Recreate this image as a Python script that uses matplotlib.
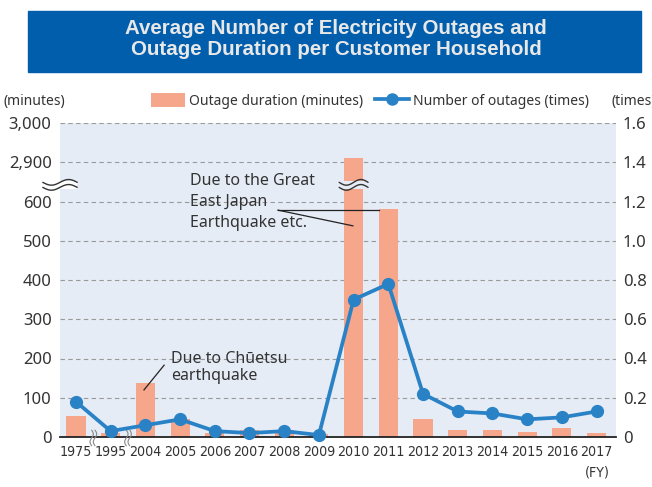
# -*- coding: utf-8 -*-

import matplotlib
matplotlib.use("Agg")
import matplotlib.pyplot as plt
import numpy as np
from matplotlib.patches import Rectangle, Patch
from matplotlib.lines import Line2D

# data
years = ["1975", "1995", "2004", "2005", "2006", "2007", "2008", "2009",
         "2010", "2011", "2012", "2013", "2014", "2015", "2016", "2017"]
duration_min = [54, 10, 137, 46, 11, 18, 17, 7,
                2912, 580, 46, 18, 18, 13, 23, 10]
outages_times = [0.18, 0.03, 0.06, 0.09, 0.03, 0.02, 0.03, 0.01,
                 0.70, 0.78, 0.22, 0.13, 0.12, 0.09, 0.10, 0.13]
left_ticks = [0, 100, 200, 300, 400, 500, 600, 2900, 3000]
left_labels = ["0", "100", "200", "300", "400", "500", "600", "2,900", "3,000"]
right_ticks = [0, 0.2, 0.4, 0.6, 0.8, 1.0, 1.2, 1.4, 1.6]
right_labels = ["0", "0.2", "0.4", "0.6", "0.8", "1.0", "1.2", "1.4", "1.6"]

# colours
BAR = "#F6A68B"
LINE = "#2A82C6"
BG = "#E5ECF6"
TXT = "#333333"
TITLE_BG = "#005EAD"

plt.rcParams["font.family"] = ["Noto Sans", "DejaVu Sans"]
plt.rcParams["text.color"] = TXT
NARROW = dict(family="DejaVu Sans", fontstretch="condensed")


# broken left axis: 0-600 linear, 600-2900 squeezed into one step, 2900-3000 linear
def fwd(v):
    v = np.asarray(v, dtype=float)
    return np.where(v <= 600, v / 100.0,
                    np.where(v <= 2900, 6 + (v - 600) / 2300.0,
                             7 + (v - 2900) / 100.0))


def inv(g):
    g = np.asarray(g, dtype=float)
    return np.where(g <= 6, g * 100.0,
                    np.where(g <= 7, 600 + (g - 6) * 2300.0,
                             2900 + (g - 7) * 100.0))


fig = plt.figure(figsize=(6.52, 4.87), dpi=100)
ax = fig.add_axes([60 / 652, 1 - 437 / 487, 556 / 652, 314 / 487])
ax.set_yscale("function", functions=(fwd, inv))
ax.set_facecolor(BG)

x = np.arange(len(years))
ax.bar(x, duration_min, width=0.55, color=BAR, zorder=2)
ax.set_xlim(-0.46, 15.56)
ax.set_ylim(0, 3000)
ax.set_yticks(left_ticks)
ax.set_yticklabels(left_labels)
ax.yaxis.set_minor_locator(matplotlib.ticker.NullLocator())
ax.grid(axis="y", linestyle=(0, (4, 3)), color="#9A9A9A", linewidth=0.8, zorder=1)
ax.set_axisbelow(True)
for s in ["top", "right", "left"]:
    ax.spines[s].set_visible(False)
ax.spines["bottom"].set_color("#222222")
ax.spines["bottom"].set_linewidth(1.3)
ax.spines["bottom"].set_zorder(5)
ax.tick_params(axis="y", length=0, pad=6, labelsize=12, labelcolor=TXT)
ax.tick_params(axis="x", length=0, pad=6, labelcolor=TXT)
ax.set_xticks(x)
ax.set_xticklabels(years, fontsize=10.2, **NARROW)

ax2 = ax.twinx()
ax2.plot(x, outages_times, color=LINE, linewidth=2.7, marker="o",
         markersize=8.5, zorder=4, clip_on=False)
ax2.set_ylim(0, 1.6)
ax2.set_yticks(right_ticks)
ax2.set_yticklabels(right_labels)
for s in ["top", "right", "left", "bottom"]:
    ax2.spines[s].set_visible(False)
ax2.tick_params(axis="y", length=0, pad=5, labelsize=12, labelcolor=TXT)


# wavy break marks
def wave(axis, xc, yc, w, h, gap, rot=False, color="#333333", lw=1.0):
    t = np.linspace(-1, 1, 40)
    for off in (-gap / 2, gap / 2):
        a = xc + t * w / 2
        b = yc + off + h * np.sin(t * np.pi)
        if rot:
            a, b = xc + off + h * np.sin(t * np.pi), yc + t * w / 2
        axis.plot(a, b, color=color, lw=lw, transform=axis.transAxes,
                  clip_on=False, zorder=6, solid_capstyle="round")


# on left axis and on the 2010 bar
ax.add_patch(Rectangle((-0.03, 0.79), 0.06, 0.025, transform=ax.transAxes,
                       color="white", clip_on=False, zorder=5, lw=0))
wave(ax, 0.0, 0.803, 0.062, 0.009, 0.016)
bx = (8 + 0.46) / 16.02
ax.add_patch(Rectangle((bx - 0.0185, 0.79), 0.037, 0.026, transform=ax.transAxes,
                       color=BG, clip_on=False, zorder=5, lw=0))
wave(ax, bx, 0.803, 0.052, 0.009, 0.016)
# between category gaps on the x axis
for gx in (0.5, 1.5):
    xa = (gx + 0.46) / 16.02
    wave(ax, xa, -0.003, 0.05, 0.003, 0.006, rot=True, color="#888888", lw=0.8)

# annotations
ax.text(3.29, 0.84, "Due to the Great\nEast Japan\nEarthquake etc.",
        transform=ax.get_xaxis_transform(), va="top", ha="left",
        fontsize=11.5, linespacing=1.42, zorder=7)
ax.plot([5.82, 8.72], [578, 578], color="#222222", lw=0.9, zorder=6)
ax.plot([5.82, 7.98], [578, 538], color="#222222", lw=0.9, zorder=6)
ax.text(2.74, 0.275, "Due to Ch\u016betsu\nearthquake",
        transform=ax.get_xaxis_transform(), va="top", ha="left",
        fontsize=11.5, linespacing=1.15, zorder=7)
ax.plot([1.96, 2.54], [120, 183], color="#222222", lw=0.9, zorder=6)

# units
fig.text(3 / 652, 1 - 101 / 487, "(minutes)", fontsize=10, va="center", ha="left")
fig.text(612 / 652, 1 - 101 / 487, "(times)", fontsize=10, va="center", ha="left")
fig.text(597 / 652, 1 - 472 / 487, "(FY)", fontsize=10.2, va="center", ha="center",
         **NARROW)

# legend
handles = [Patch(facecolor=BAR, edgecolor="none"),
           Line2D([0], [0], color=LINE, lw=2.7, marker="o", markersize=8)]
fig.legend(handles, ["Outage duration (minutes)", "Number of outages (times)"],
           loc="center", bbox_to_anchor=(370 / 652, 1 - 101 / 487), ncol=2,
           frameon=False, fontsize=10, handlelength=2.4, handleheight=1.1,
           handletextpad=0.3, columnspacing=0.9, borderaxespad=0)

# title box
fig.patches.append(Rectangle((28 / 652, 1 - 72 / 487), 613 / 652, 61 / 487,
                             transform=fig.transFigure, color=TITLE_BG, zorder=0))
fig.text(336 / 652, 1 - 39 / 487,
         "Average Number of Electricity Outages and\nOutage Duration per Customer Household",
         ha="center", va="center", color="#E8E8E8", fontsize=14.8,
         fontweight="bold", family=["Liberation Sans", "DejaVu Sans"],
         linespacing=1.12)

fig.savefig("out.png", dpi=100)
